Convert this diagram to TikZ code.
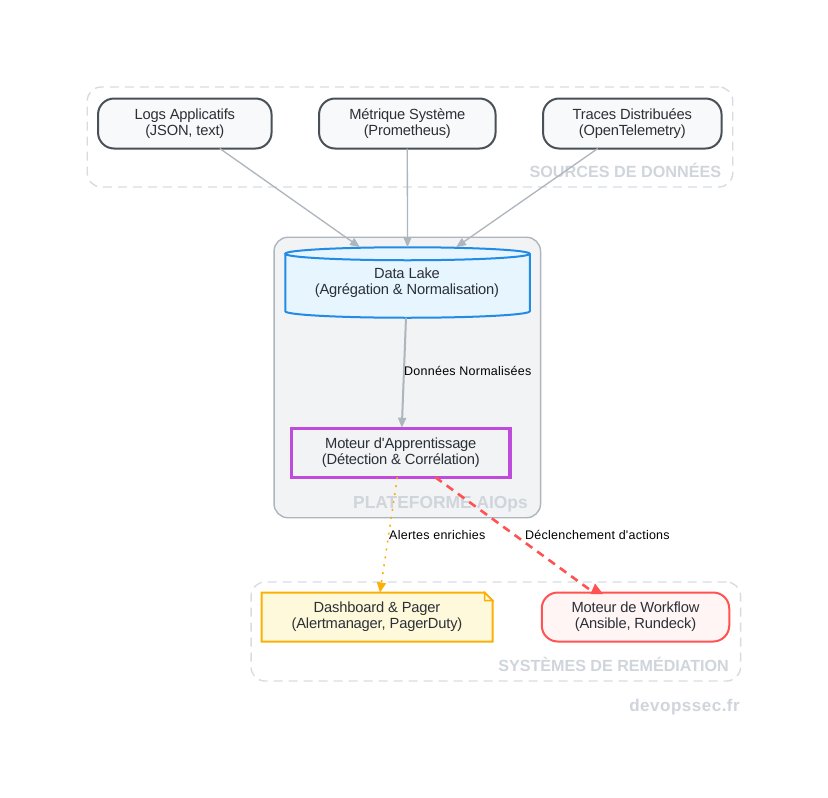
\documentclass[tikz,border=0pt]{standalone}
\usepackage{fontspec}
\setmainfont{Liberation Sans}[Ligatures=TeXOff]
\usetikzlibrary{arrows.meta,calc}
\definecolor{grouplabel}{HTML}{D0D5DC}
\definecolor{groupline}{HTML}{D8DCE2}
\definecolor{edgegray}{HTML}{ADB5BD}
\definecolor{inktext}{HTML}{2B3036}
\definecolor{srcline}{HTML}{495057}
\definecolor{srcfill}{HTML}{F8F9FA}
\definecolor{lakeline}{HTML}{228BE6}
\definecolor{lakefill}{HTML}{E7F5FF}
\definecolor{mlline}{HTML}{BE4BDB}
\definecolor{noteline}{HTML}{FAB005}
\definecolor{notefill}{HTML}{FFF9DB}
\definecolor{wfline}{HTML}{FF5252}
\definecolor{wffill}{HTML}{FFF5F5}
\definecolor{platfill}{HTML}{F1F3F5}
\tikzset{
  x=1pt,y=-1pt,
  txt/.style={font=\fontsize{14.7}{16}\selectfont\addfontfeature{LetterSpace=-1.2},text=inktext,align=center,inner sep=0pt,outer sep=0pt},
  src/.style={txt,draw=srcline,fill=srcfill,line width=2pt,rounded corners=16pt,minimum height=50pt},
  grp/.style={draw=groupline,line width=1.4pt,dash pattern=on 9pt off 6pt,rounded corners=14pt},
  grplabel/.style={font=\fontsize{16.2}{18}\selectfont\bfseries,text=grouplabel,inner sep=0pt,anchor=east},
  edgelabel/.style={font=\fontsize{12.5}{14}\selectfont\addfontfeature{LetterSpace=2},text=black,inner sep=0pt,anchor=west},
  flow/.style={draw=edgegray,line width=1.3pt,-{Triangle[length=10pt,width=8pt]}},
  hint/.style={draw=noteline,line width=1.5pt,dash pattern=on 2pt off 6pt,-{Triangle[length=10pt,width=9pt]}},
  act/.style={draw=wfline,line width=2.6pt,dash pattern=on 8pt off 6pt},
}
\begin{document}
\begin{tikzpicture}
\useasboundingbox (0,0) rectangle (828,798);
\fill[white] (0,0) rectangle (828,798);
% groups
\node[grp,minimum width=645.5pt,minimum height=100pt,inner sep=0pt] (gsrc) at (410,137) {};
\node[draw=edgegray,fill=platfill,line width=1.4pt,rounded corners=14pt,minimum width=266.5pt,minimum height=280.5pt,inner sep=0pt] (gplat) at (407.3,377.5) {};
\node[grp,minimum width=489.5pt,minimum height=99pt,inner sep=0pt] (grem) at (495.8,631.5) {};
\node[grplabel] (lsrc) at (721.5,170.5) {SOURCES DE DONNÉES};
\node[grplabel,font=\fontsize{17.4}{20}\selectfont\bfseries] (lplat) at (528,504.5) {PLATEFORME AIOps};
\node[grplabel,font=\fontsize{16.1}{18}\selectfont\bfseries] (lrem) at (729,664.5) {SYSTÈMES DE REMÉDIATION};
\node[grplabel,font=\fontsize{17}{20}\selectfont\bfseries\addfontfeature{LetterSpace=3}] (brand) at (740,707.5) {devopssec.fr};
% nodes
\node[src,minimum width=173.5pt] (logs) at (184.8,123.5) {Logs Applicatifs\\(JSON, text)};
\node[src,minimum width=176.5pt] (metric) at (407.3,123.5) {Métrique Système\\(Prometheus)};
\node[src,minimum width=178.5pt] (traces) at (632.3,123.5) {Traces Distribuées\\(OpenTelemetry)};
% data lake cylinder
\node[txt,minimum width=244.5pt,minimum height=70.5pt] (lake) at (407.5,282.5) {};
\draw[draw=lakeline,fill=lakefill,line width=2pt]
  ($(lake.north west)+(0,6.5)$) -- ($(lake.south west)+(0,-6.5)$)
  arc[x radius=122.25,y radius=6.5,start angle=180,delta angle=-180]
  -- ($(lake.north east)+(0,6.5)$)
  arc[x radius=122.25,y radius=6.5,start angle=0,delta angle=-180]
  arc[x radius=122.25,y radius=6.5,start angle=180,delta angle=-180];
\node[txt] (laketext) at (407,283) {Data Lake\\(Agrégation \& Normalisation)};
% learning engine
\node[txt,draw=mlline,line width=3.3pt,minimum width=218.5pt,minimum height=48.5pt] (ml) at (400.8,453) {Moteur d'Apprentissage\\(Détection \& Corrélation)};
% note
\node[txt,minimum width=231pt,minimum height=49pt] (note) at (377,617) {};
\draw[draw=noteline,fill=notefill,line width=2pt]
  (note.north west) -- ($(note.north east)+(-8,0)$) -- ($(note.north east)+(0,8)$) -- (note.south east) -- (note.south west) -- cycle;
\draw[draw=noteline,line width=1.5pt,fill=notefill]
  ($(note.north east)+(-8,0)$) -- ($(note.north east)+(-8,8)$) -- ($(note.north east)+(0,8)$) -- cycle;
\node[txt] (notetext) at (377,617) {Dashboard \& Pager\\(Alertmanager, PagerDuty)};
% workflow
\node[txt,draw=wfline,fill=wffill,line width=2pt,rounded corners=16pt,minimum width=187.5pt,minimum height=49pt] (wf) at (635.5,617) {Moteur de Workflow\\(Ansible, Rundeck)};
% connectors
\draw[flow] ([xshift=35pt]logs.south) -- ([xshift=-47.5pt]lake.north);
\draw[flow] (metric.south) -- ([xshift=0pt]lake.north);
\draw[flow] ([xshift=-34.5pt]traces.south) -- ([xshift=48.5pt]lake.north);
\draw[flow,line width=2pt] ([xshift=-1.5pt]lake.south) -- ([xshift=1pt,yshift=1pt]ml.north);
\draw[hint] ([xshift=-3.5pt]ml.south) -- ([xshift=3pt]note.north);
\draw[act] ([xshift=34.5pt]ml.south) -- ($(wf.north)+(-46,-3)$);
\fill[wfline] ($(wf.north)+(-40.5,-9)$) -- ($(wf.north)+(-45,1.5)$) -- ($(wf.north)+(-32.5,1.5)$) -- cycle;
% edge labels
\node[edgelabel] (e1) at (404,371) {Données Normalisées};
\node[edgelabel] (e2) at (389,535) {Alertes enrichies};
\node[edgelabel] (e3) at (525,535) {Déclenchement d'actions};
\end{tikzpicture}
\end{document}
